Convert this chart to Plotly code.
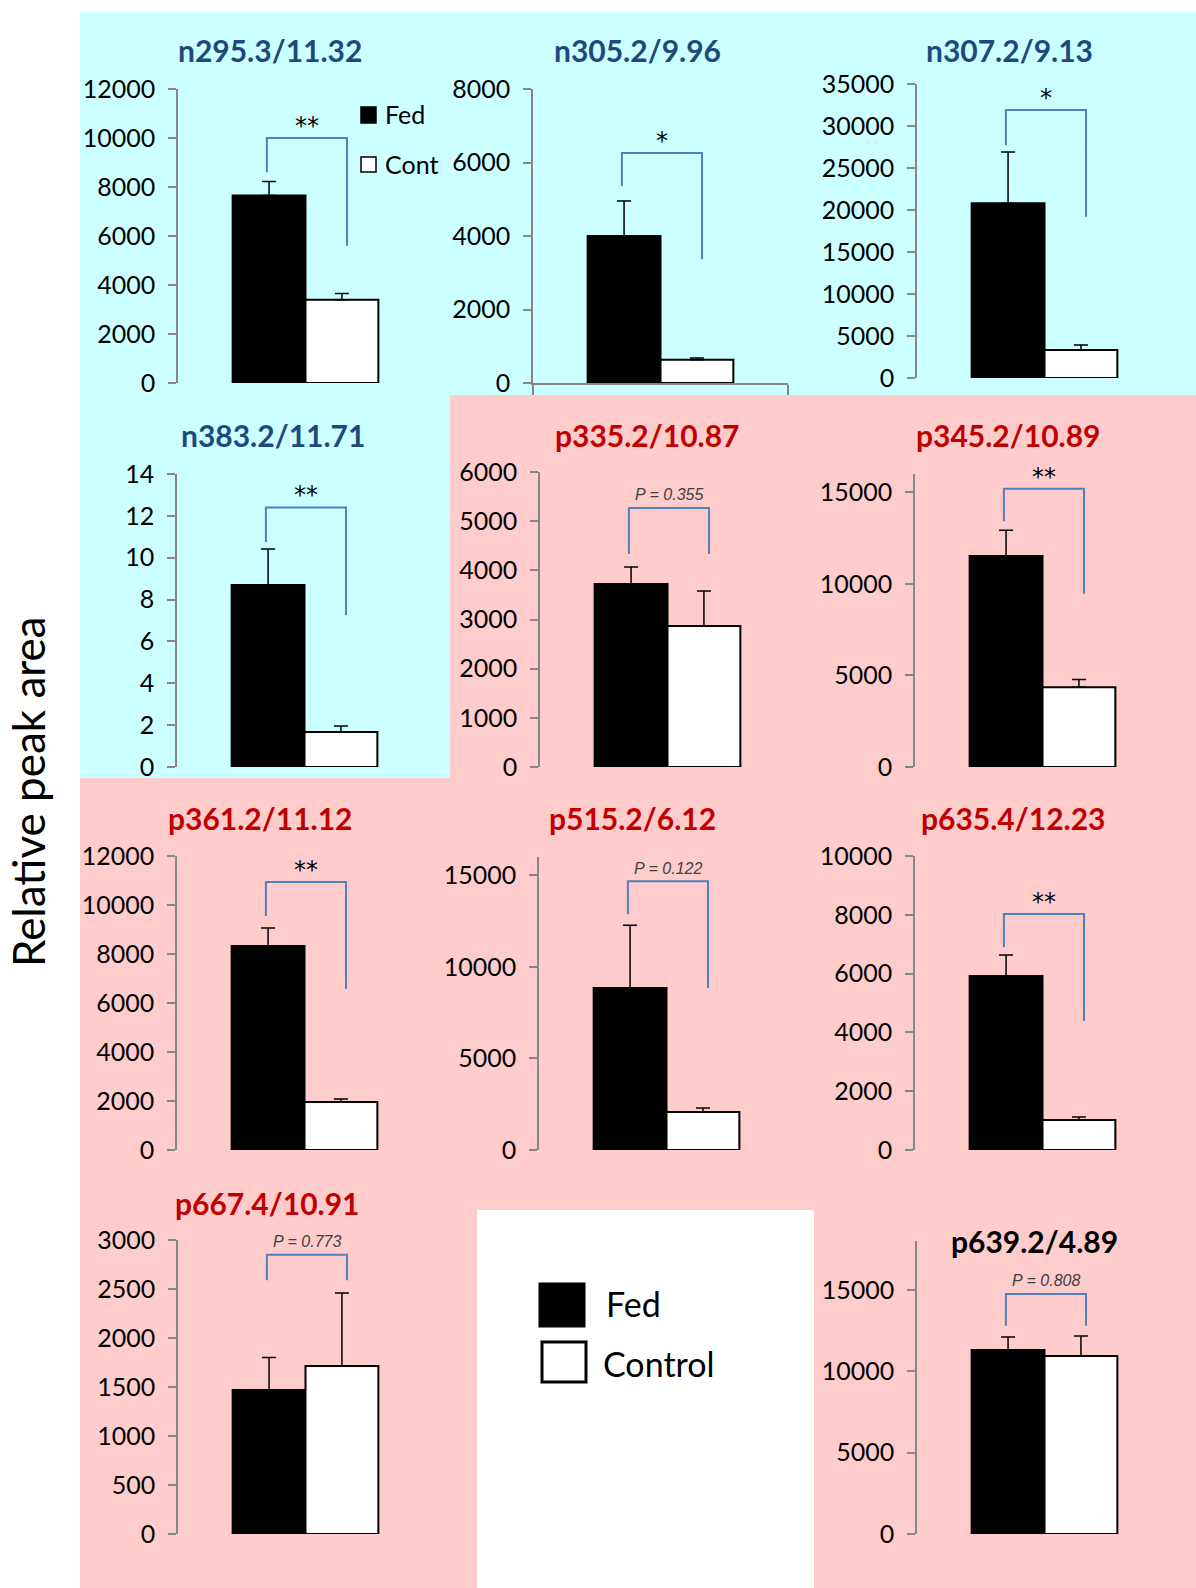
import plotly.graph_objects as go

# ---- data -------------------------------------------------------------
panel_titles = [
    "n295.3/11.32", "n305.2/9.96", "n307.2/9.13",
    "n383.2/11.71", "p335.2/10.87", "p345.2/10.89",
    "p361.2/11.12", "p515.2/6.12", "p635.4/12.23",
    "p667.4/10.91", "p639.2/4.89",
]
fed_mean = [7650, 4000, 20800, 8.7, 3720, 11520, 8330, 8840, 5920, 1470, 11310]
fed_sem = [570, 950, 6100, 1.72, 350, 1410, 730, 3430, 710, 330, 800]
cont_mean = [3400, 630, 3330, 1.67, 2870, 4350, 1960, 2070, 1020, 1715, 10940]
cont_sem = [250, 50, 600, 0.29, 710, 430, 120, 220, 100, 745, 1230]

y_max = [12000, 8000, 35000, 14, 6000, 16000, 12000, 16000, 10000, 3000, 18000]
y_dtick = [2000, 2000, 5000, 2, 1000, 5000, 2000, 5000, 2000, 500, 5000]

significance = ["**", "*", "*", "**", "P = 0.355", "**", "**",
                "P = 0.122", "**", "P = 0.773", "P = 0.808"]
bracket_top = [10000, 6260, 31900, 12.4, 5270, 15200, 10940, 14670, 8030, 2850, 14750]
bracket_fed_end = [8600, 5360, 27700, 10.75, 4330, 13420, 9550, 12870, 6900, 2590, 12790]
bracket_cont_end = [5600, 3370, 19200, 7.26, 4330, 9460, 6570, 8840, 4390, 2590, 12790]

group_names = ["Fed", "Control"]
inset_names = ["Fed", "Cont"]
y_label = "Relative peak area"

# ---- page geometry (pixels) ------------------------------------------
W, H = 1196, 1588
# y-axis x position, pixel row of zero, pixel row of axis top
panel_box = [
    (178, 383, 89), (533, 383, 89), (917, 378, 84),
    (177, 767, 474), (540, 767, 472), (915, 767, 474),
    (177, 1150, 856), (539, 1150, 857), (915, 1150, 856),
    (178, 1534, 1240), (917, 1534, 1241),
]
title_pos = [
    (270, 50), (637, 50), (1009, 50),
    (273, 435), (647, 435), (1008, 435),
    (260, 818), (632, 818), (1013, 818),
    (267, 1203), (1034, 1241),
]
PLOT_W = 255          # width of each plotting area in px
X_RANGE = [-1.25, 2.25]
BRACKET_X = [-0.03, 1.07]

BLUE_T = "#1F497D"
RED_T = "#C00000"
BRACKET_C = "#4F81BD"
AXIS_C = "#868686"
CYAN = "#CCFFFF"
PINK = "#FFCCCC"
FONT = "Lato"


def fx(px):
    return px / W


def fy(py):
    return 1 - py / H


fig = go.Figure()
layout = dict(
    width=W, height=H,
    margin=dict(l=0, r=0, t=0, b=0, pad=0, autoexpand=False),
    paper_bgcolor="white",
    plot_bgcolor="rgba(0,0,0,0)",
    barmode="overlay",
    showlegend=False,
    font=dict(family=FONT, color="black"),
)

shapes = []
annotations = []

# coloured panels behind the charts
for x0, y0, x1, y1, c in [
    (80, 12, 1196, 395, CYAN),
    (80, 395, 450, 778, CYAN),
    (450, 395, 1196, 778, PINK),
    (80, 778, 1196, 1588, PINK),
    (477, 1210, 814, 1588, "white"),
]:
    shapes.append(dict(type="rect", xref="paper", yref="paper",
                       x0=fx(x0), x1=fx(x1), y0=fy(y1), y1=fy(y0),
                       fillcolor=c, line=dict(width=0), layer="below"))

for i in range(len(panel_titles)):
    k = "" if i == 0 else str(i + 1)
    xa, ya = "x" + k, "y" + k
    ax_px, zero_px, top_px = panel_box[i]

    fig.add_trace(go.Bar(
        x=[0], y=[fed_mean[i]], width=[1], xaxis=xa, yaxis=ya,
        marker=dict(color="black", line=dict(color="black", width=2)),
        error_y=dict(type="data", array=[fed_sem[i]], arrayminus=[0],
                     symmetric=False, color="black", thickness=1.5, width=7),
        name=group_names[0],
    ))
    fig.add_trace(go.Bar(
        x=[1], y=[cont_mean[i]], width=[1], xaxis=xa, yaxis=ya,
        marker=dict(color="white", line=dict(color="black", width=2)),
        error_y=dict(type="data", array=[cont_sem[i]], arrayminus=[0],
                     symmetric=False, color="black", thickness=1.5, width=7),
        name=group_names[1],
    ))
    # significance bracket
    fig.add_trace(go.Scatter(
        x=[BRACKET_X[0], BRACKET_X[0], BRACKET_X[1], BRACKET_X[1]],
        y=[bracket_fed_end[i], bracket_top[i], bracket_top[i], bracket_cont_end[i]],
        mode="lines", line=dict(color=BRACKET_C, width=2),
        xaxis=xa, yaxis=ya, hoverinfo="skip",
    ))

    xaxis = dict(domain=[fx(ax_px), fx(ax_px + PLOT_W)], range=X_RANGE,
                 anchor=ya, showgrid=False, zeroline=False,
                 showticklabels=False, fixedrange=True, automargin=False)
    if i == 1:
        xaxis.update(showline=True, linecolor=AXIS_C, linewidth=1.5,
                     ticks="outside", tickvals=X_RANGE, ticklen=10,
                     tickcolor=AXIS_C, tickwidth=1.5)
    else:
        xaxis.update(visible=False)
    layout["xaxis" + k] = xaxis
    layout["yaxis" + k] = dict(
        domain=[fy(zero_px), fy(top_px)], range=[0, y_max[i]],
        dtick=y_dtick[i], tick0=0, anchor=xa, tickformat="d",
        showline=True, linecolor=AXIS_C, linewidth=1.5,
        ticks="outside", ticklen=8, tickcolor=AXIS_C, tickwidth=1.5,
        showgrid=False, zeroline=False, fixedrange=True, automargin=False,
        tickfont=dict(family=FONT, size=25, color="black"),
        ticklabelstandoff=8,
    )

    title_c = BLUE_T if panel_titles[i].startswith("n") else RED_T
    if i == len(panel_titles) - 1:
        title_c = "black"
    tx, ty = title_pos[i]
    annotations.append(dict(
        text="<b>" + panel_titles[i] + "</b>", xref="paper", yref="paper",
        x=fx(tx), y=fy(ty), xanchor="center", yanchor="middle",
        showarrow=False, font=dict(family=FONT, size=30, color=title_c),
    ))

    sig = significance[i]
    if sig.startswith("P"):
        annotations.append(dict(
            text="<i>" + sig + "</i>", xref=xa, yref=ya,
            x=sum(BRACKET_X) / 2, y=bracket_top[i], xanchor="center",
            yanchor="middle", yshift=13, showarrow=False,
            font=dict(family="Liberation Sans", size=16, color="#404040"),
        ))
    else:
        annotations.append(dict(
            text=sig, xref=xa, yref=ya,
            x=sum(BRACKET_X) / 2, y=bracket_top[i], xanchor="center",
            yanchor="middle", yshift=12, showarrow=False,
            font=dict(family="DejaVu Sans", size=24, color="black"),
        ))

# small key inside the first chart
for (x0, y0, x1, y1), fill, name, ty in [
    ((361, 107, 376, 123), "black", inset_names[0], 114),
    ((361, 157, 376, 172), "white", inset_names[1], 164),
]:
    shapes.append(dict(type="rect", xref="paper", yref="paper",
                       x0=fx(x0), x1=fx(x1), y0=fy(y1), y1=fy(y0),
                       fillcolor=fill, line=dict(color="black", width=1.5)))
    annotations.append(dict(text=name, xref="paper", yref="paper",
                            x=fx(383), y=fy(ty), xanchor="left", yanchor="middle",
                            showarrow=False, font=dict(family=FONT, size=25)))

# main key
for (x0, y0, x1, y1), fill, name, tx, ty in [
    ((540, 1284, 584, 1326), "black", group_names[0], 604, 1303),
    ((542, 1342, 586, 1382), "white", group_names[1], 601, 1363),
]:
    shapes.append(dict(type="rect", xref="paper", yref="paper",
                       x0=fx(x0), x1=fx(x1), y0=fy(y1), y1=fy(y0),
                       fillcolor=fill, line=dict(color="black", width=3)))
    annotations.append(dict(text=name, xref="paper", yref="paper",
                            x=fx(tx), y=fy(ty), xanchor="left", yanchor="middle",
                            showarrow=False, font=dict(family=FONT, size=34)))

# shared y-axis label
annotations.append(dict(text=y_label, xref="paper", yref="paper",
                        x=fx(28), y=fy(792), xanchor="center", yanchor="middle",
                        textangle=-90, showarrow=False,
                        font=dict(family=FONT, size=44, color="black")))

layout["shapes"] = shapes
layout["annotations"] = annotations
fig.update_layout(**layout)
fig.write_html("out.html")
